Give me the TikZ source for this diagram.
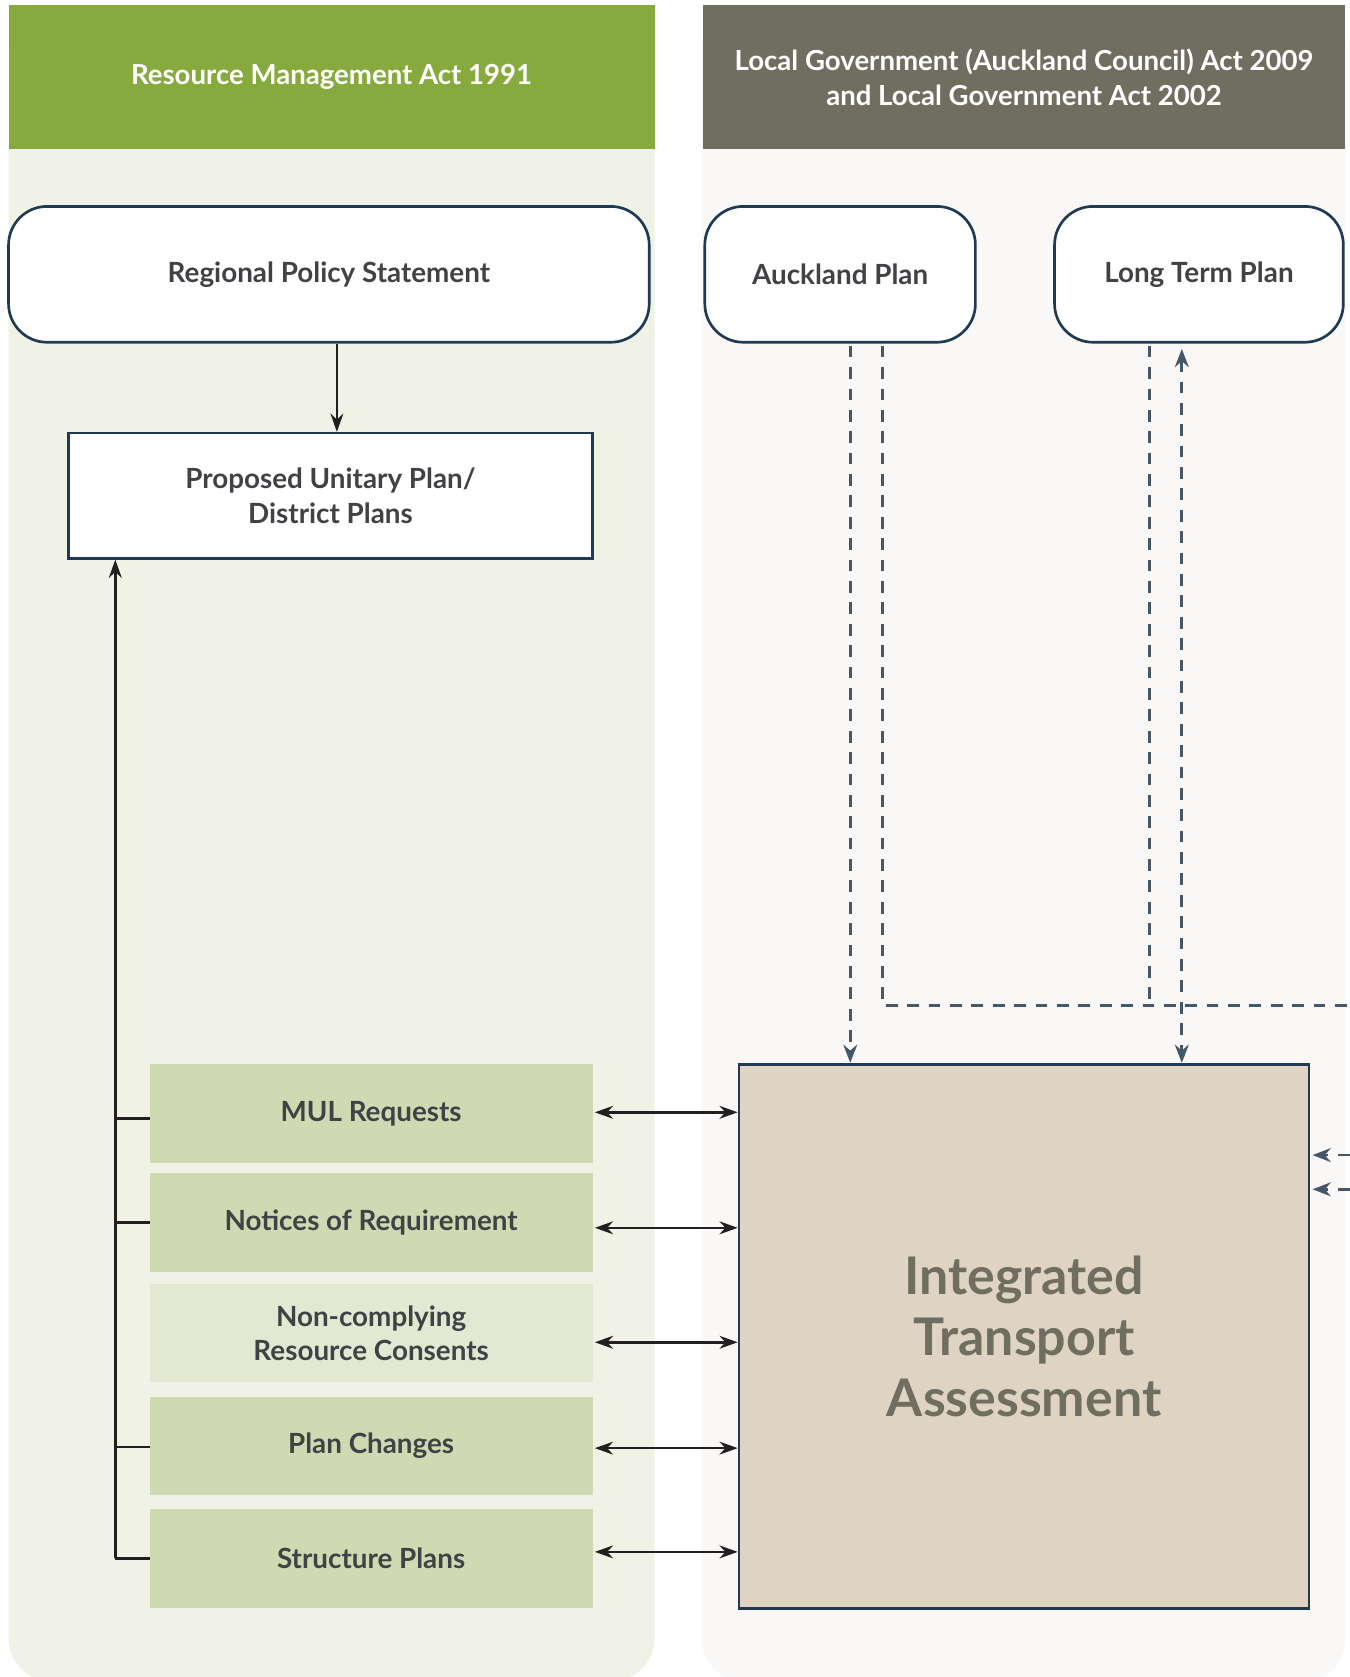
\documentclass[tikz,border=0pt]{standalone}
\usepackage{fontspec}
\setmainfont{Lato}
\usetikzlibrary{arrows.meta}
\definecolor{leftbg}{HTML}{F0F2E6}
\definecolor{rightbg}{HTML}{F9F8F6}
\definecolor{greenhdr}{HTML}{87AA3F}
\definecolor{grayhdr}{HTML}{706E60}
\definecolor{navy}{HTML}{1F3A52}
\definecolor{greenbox}{HTML}{D0DAB2}
\definecolor{lightbox}{HTML}{E3E8D2}
\definecolor{itafill}{HTML}{DFD3C3}
\definecolor{txt}{HTML}{404245}
\definecolor{itatxt}{HTML}{6F6E60}
\definecolor{slate}{HTML}{44586A}
\definecolor{blk}{HTML}{231F20}
\begin{document}
\begin{tikzpicture}[x=1pt,y=-1pt,
  hdr/.style={inner sep=0pt, minimum width=#1, minimum height=134pt, text=white,
    font=\bfseries\fontsize{25.8}{33}\selectfont, align=center},
  rbox/.style={draw=navy, line width=2.5pt, fill=white, rounded corners=36pt,
    minimum height=127pt, minimum width=#1, text=txt, font=\bfseries\fontsize{26}{33}\selectfont},
  gbox/.style={fill=greenbox, minimum width=414pt, minimum height=92pt, inner sep=0pt,
    text=txt, font=\bfseries\fontsize{26}{32}\selectfont, align=center},
  blkline/.style={draw=blk, line width=2.4pt},
  btip/.style={-{Stealth[length=17pt,width=12pt]}},
  dbl/.style={draw=blk, line width=2.4pt, {Stealth[length=17pt,width=12pt]}-{Stealth[length=17pt,width=12pt]}},
  dsh/.style={draw=slate, line width=2.5pt, dash pattern=on 11pt off 9pt},
  dtip/.style={-{Stealth[length=17pt,width=13pt]}}
]
\useasboundingbox (0,0) rectangle (1261.5,1568);
\fill[white] (0,0) rectangle (1261.5,1568);
% panels
\fill[leftbg, rounded corners=40pt] (8,5) rectangle (612,1572);
\fill[rightbg, rounded corners=40pt] (656,5) rectangle (1258,1572);
\node[hdr=604pt, fill=greenhdr] (hdrL) at (310,72) {Resource Management Act 1991};
\node[hdr=601pt, fill=grayhdr] (hdrR) at (957.5,72) {Local Government (Auckland Council) Act 2009\\and Local Government Act 2002};
% top boxes
\node[rbox=599pt] (rps) at (307.5,256.5) {Regional Policy Statement};
\node[rbox=253pt] (ap) at (785.5,256.5) {Auckland Plan};
\node[rbox=270pt] (ltp) at (1121,256.5) {Long Term Plan};
\node[draw=navy, line width=2.5pt, fill=white, minimum width=490pt, minimum height=117pt,
  text=txt, font=\bfseries\fontsize{26}{33}\selectfont, align=center] (pup) at (309,463.5)
  {Proposed Unitary Plan/\\District Plans};
% green boxes
\node[gbox] (mul) at (347,1041) {MUL Requests};
\node[gbox] (nor) at (347,1143) {Notices of Requirement};
\node[gbox, fill=lightbox] (nc) at (347,1246.5) {Non-complying\\Resource Consents};
\node[gbox] (pc) at (347,1352) {Plan Changes};
\node[gbox] (sp) at (347,1457) {Structure Plans};
% ITA
\node[draw=navy, line width=2.5pt, fill=itafill, minimum width=533pt, minimum height=509pt,
  text=itatxt, font=\bfseries\fontsize{48.5}{57}\selectfont, align=center] (ita) at (957.5,1249.5)
  {\raisebox{-2pt}{\parbox{400pt}{\centering Integrated\\Transport\\Assessment}}};
% RPS -> PUP
\draw[blkline, btip] ([xshift=7.5pt]rps.south) -- ([xshift=6pt]pup.north);
% left spine
\coordinate (spc) at ([xshift=-32pt]sp.west);
\draw[blkline, btip] (spc) -- (spc |- pup.south);
\draw[blkline] (sp.west) -- (spc);
\draw[blkline] ([yshift=-5pt]mul.west) -- ([yshift=-5pt]mul.west -| spc);
\draw[blkline] (nor.west) -- (nor.west -| spc);
\draw[blkline] ([yshift=-1pt]pc.west) -- ([yshift=-1pt]pc.west -| spc);
% double arrows
\draw[dbl] ([xshift=2pt,yshift=1pt]mul.east) -- ([yshift=1pt]mul.east -| ita.west);
\draw[dbl] ([xshift=2pt,yshift=-5pt]nor.east) -- ([yshift=-5pt]nor.east -| ita.west);
\draw[dbl] ([xshift=2pt,yshift=-8.5pt]nc.east) -- ([yshift=-8.5pt]nc.east -| ita.west);
\draw[dbl] ([xshift=2pt,yshift=-2pt]pc.east) -- ([yshift=-2pt]pc.east -| ita.west);
\draw[dbl] ([xshift=2pt,yshift=6pt]sp.east) -- ([yshift=6pt]sp.east -| ita.west);
% dashed connectors
\coordinate (edgeB) at (1262,940);
\coordinate (r1) at (1262,1080);
\coordinate (r2) at (1262,1112);
\draw[dsh, dtip] ([xshift=9.5pt,yshift=-2pt]ap.south) -- ([xshift=9.5pt]ap.south |- ita.north);
\draw[dsh] ([xshift=39.5pt,yshift=-2pt]ap.south) |- (edgeB);
\draw[dsh] ([xshift=-46pt,yshift=-2pt]ltp.south) -- ([xshift=-46pt]ltp.south |- edgeB);
\draw[dsh, {Stealth[length=17pt,width=13pt]}-{Stealth[length=17pt,width=13pt]}] ([xshift=-16pt,yshift=-5pt]ltp.south) -- ([xshift=-16pt]ltp.south |- ita.north);
\draw[dsh, dtip] (r1) -- ([xshift=2pt]r1 -| ita.east);
\draw[dsh, dtip] (r2) -- ([xshift=2pt]r2 -| ita.east);
\end{tikzpicture}
\end{document}
